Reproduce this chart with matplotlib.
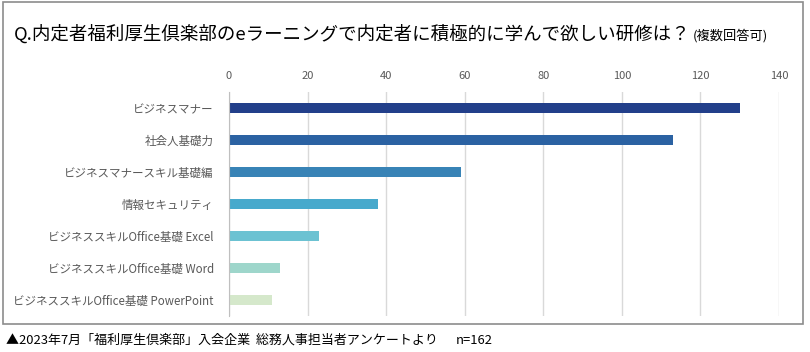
import matplotlib
matplotlib.use("Agg")
import matplotlib.pyplot as plt
from matplotlib.patches import Rectangle

plt.rcParams['font.family'] = ['Noto Sans CJK JP', 'DejaVu Sans']

categories = [
    'ビジネスマナー',
    '社会人基礎力',
    'ビジネスマナースキル基礎編',
    '情報セキュリティ',
    'ビジネススキルOffice基礎 Excel',
    'ビジネススキルOffice基礎 Word',
    'ビジネススキルOffice基礎 PowerPoint',
]
values = [130, 113, 59, 38, 23, 13, 11]
colors = ['#223F8A', '#2B62A2', '#3883B6', '#47A9CC', '#6CC2D2', '#9ED6CB', '#D5E8CB']
xticks = [0, 20, 40, 60, 80, 100, 120, 140]

title = 'Q.内定者福利厚生倶楽部のeラーニングで内定者に積極的に学んで欲しい研修は？'
subtitle = '(複数回答可)'
footer = '▲2023年7月「福利厚生倶楽部」入会企業  総務人事担当者アンケートより'
n_note = 'n=162'

W, H = 810, 352
fig = plt.figure(figsize=(W / 100, H / 100), dpi=100)

# outer frame
fig.patches.append(Rectangle((3 / W, 1 - 324 / H), 800 / W, 322 / H,
                             transform=fig.transFigure, fill=False,
                             edgecolor='#8C8C8C', linewidth=1.2))

ax = fig.add_axes([229 / W, 1 - 316 / H, 550 / W, 224 / H])
y = list(range(len(categories)))
ax.barh(y, values, height=0.34, color=colors, zorder=3)
ax.set_ylim(len(categories) - 0.5, -0.5)
ax.set_xlim(0, 140)
ax.set_xticks(xticks)
ax.xaxis.tick_top()
ax.tick_params(axis='x', length=0, pad=8, labelsize=8, labelcolor='#595959')
ax.set_yticks(y)
ax.set_yticklabels(categories)
ax.tick_params(axis='y', length=0, pad=11, labelsize=8.3, labelcolor='#595959')
ax.grid(axis='x', color='#D9D9D9', linewidth=1, zorder=0)
for s in ['top', 'right', 'bottom']:
    ax.spines[s].set_visible(False)
ax.spines['left'].set_color('#BFBFBF')
ax.spines['left'].set_zorder(4)

fig.text(14 / W, 1 - 34 / H, title, fontsize=13.3, color='#000000', va='center', ha='left')
fig.text(693 / W, 1 - 36 / H, subtitle, fontsize=9.5, color='#000000', va='center', ha='left')
fig.text(6 / W, 1 - 340 / H, footer, fontsize=9.35, color='#000000', va='center', ha='left')
fig.text(456 / W, 1 - 340 / H, n_note, fontsize=9.35, color='#000000', va='center', ha='left')

fig.savefig('out.png', dpi=100)
